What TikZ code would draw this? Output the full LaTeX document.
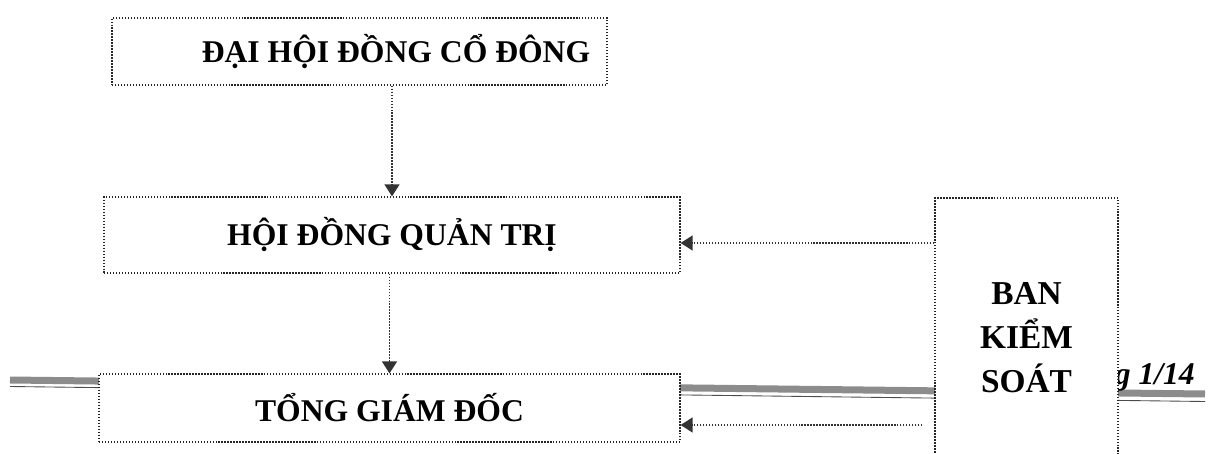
\documentclass[tikz,border=0pt]{standalone}
\usepackage{fontspec}
\setmainfont{Liberation Serif}
\usetikzlibrary{arrows.meta}

\begin{document}
\begin{tikzpicture}[
    box/.style={rectangle, draw=black!85, fill=white, line width=0.7pt, dash pattern=on 0.8pt off 0.9pt, align=center, font=\fontsize{18}{22}\selectfont\bfseries},
    link/.style={draw=black!80, line width=0.7pt, dash pattern=on 0.8pt off 0.9pt},
    footer/.style={draw=black!45, line width=0.14cm},
    >={Triangle[length=6.8pt, width=8.5pt]}
  ]
\clip (0,0) rectangle (24.22,9.06);

% Page footer behind the chart
\draw[footer] (0.2,1.46) -- (24.1,1.18);
\draw[black!70, line width=0.5pt] (0.2,1.33) -- (24.1,1.03);
\node[anchor=base east, font=\fontsize{18}{20}\selectfont\bfseries\itshape] (page) at (24.02,1.38) {g 1/14};

% Nodes
\node[box, minimum width=9.9cm, minimum height=1.34cm] (dhdcd) at (7.19,8.03) {\hspace*{1.46cm}ĐẠI HỘI ĐỒNG CỔ ĐÔNG};
\node[box, minimum width=11.52cm, minimum height=1.52cm] (hdqt) at (7.84,4.36) {HỘI ĐỒNG QUẢN TRỊ};
\node[box, minimum width=11.62cm, minimum height=1.36cm] (tgd) at (7.79,0.90) {TỔNG GIÁM ĐỐC};
\node[box, minimum width=3.66cm, minimum height=5.6cm, font=\fontsize{19}{25}\selectfont\bfseries] (bks) at (20.53,2.30) {BAN\\KIỂM\\SOÁT};

\coordinate (inhdqt) at ([yshift=-0.16cm]hdqt.east);
\coordinate (intgd) at ([yshift=-0.34cm]tgd.east);
\coordinate (bksgap) at ([xshift=-0.24cm]bks.west |- intgd);

% Arrows
\draw[link, ->] (hdqt.north |- dhdcd.south) -- (hdqt.north);
\draw[link, ->] (tgd.north |- hdqt.south) -- (tgd.north);
\draw[link, ->] (bks.west |- inhdqt) -- (inhdqt);
\draw[link, ->] (bksgap) -- (intgd);

\end{tikzpicture}
\end{document}
